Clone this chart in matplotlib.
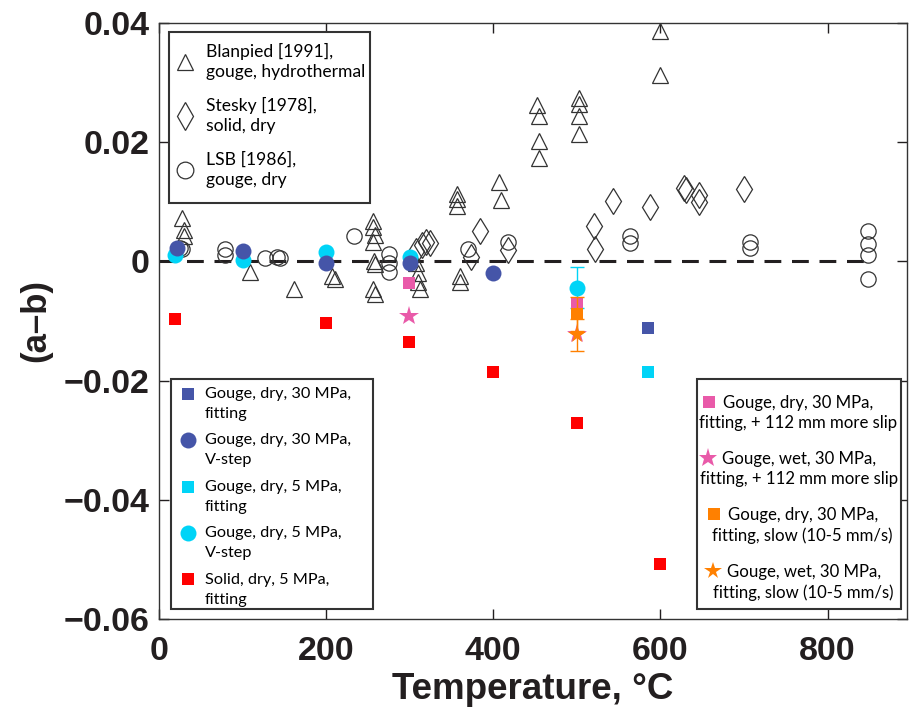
import matplotlib
matplotlib.use('Agg')
from matplotlib import pyplot as plt
from matplotlib.lines import Line2D
from matplotlib.patches import Rectangle
from matplotlib.font_manager import FontProperties
import numpy as np

# Blanpied [1991] gouge, hydrothermal (open triangles)
blanpied_T = [27, 30, 30, 109, 161, 207, 210, 256, 256, 258, 256, 257, 258, 256, 258,
              308, 310, 310, 312, 356, 356, 356, 360, 360, 407, 409,
              452, 455, 455, 455, 503, 503, 503, 503, 600, 600]
blanpied_ab = [0.0073, 0.0053, 0.0042, -0.0018, -0.0047, -0.0025, -0.0030,
               0.0067, 0.0057, 0.0045, 0.0033, 0.0000, -0.0005, -0.0047, -0.0055,
               -0.0002, -0.0019, -0.0035, -0.0047, 0.0113, 0.0104, 0.0093, -0.0025, -0.0035,
               0.0133, 0.0103, 0.0263, 0.0244, 0.0202, 0.0173,
               0.0274, 0.0264, 0.0244, 0.0214, 0.0386, 0.0313]

# Stesky [1978] solid, dry (open diamonds)
stesky_T = [308, 315, 320, 324, 373, 384, 418, 520, 522, 543, 588, 628, 630, 646, 646, 700]
stesky_ab = [0.0018, 0.0027, 0.0032, 0.0031, 0.0007, 0.0051, 0.0019, 0.0060, 0.0020,
             0.0101, 0.0091, 0.0123, 0.0120, 0.0111, 0.0099, 0.0121]

# LSB [1986] gouge, dry (open circles)
lsb_T = [25, 28, 79, 79, 127, 141, 145, 233, 275, 275, 275, 370, 418, 563, 563,
         707, 707, 848, 848, 848, 848]
lsb_ab = [0.0022, 0.0020, 0.0020, 0.0010, 0.0006, 0.0008, 0.0006, 0.0042,
          0.0012, -0.0002, -0.0018, 0.0020, 0.0032, 0.0042, 0.0031,
          0.0032, 0.0022, 0.0051, 0.0030, 0.0010, -0.0029]

# this study
dry30_fit_T = [585]
dry30_fit_ab = [-0.0111]
dry30_vstep_T = [21, 100, 200, 300, 400]
dry30_vstep_ab = [0.0022, 0.0017, -0.0002, -0.0002, -0.0019]
dry5_fit_T = [585]
dry5_fit_ab = [-0.0185]
dry5_vstep_T = [19, 100, 200, 300, 500]
dry5_vstep_ab = [0.0010, 0.0003, 0.0015, 0.0007, -0.0044]
dry5_vstep_err = [0, 0, 0, 0, 0.0035]
solid5_fit_T = [19, 200, 299, 400, 500, 600]
solid5_fit_ab = [-0.0096, -0.0104, -0.0135, -0.0185, -0.0271, -0.0508]
dry30_slip_T = [299, 500]
dry30_slip_ab = [-0.0037, -0.0069]
wet30_slip_T = [299, 500]
wet30_slip_ab = [-0.0092, -0.0121]
dry30_slow_T = [500]
dry30_slow_ab = [-0.0088]
dry30_slow_err = [0.0029]
wet30_slow_T = [500]
wet30_slow_ab = [-0.0124]
wet30_slow_err = [0.0027]

labels1 = ['Blanpied [1991],\ngouge, hydrothermal', 'Stesky [1978],\nsolid, dry',
           'LSB [1986],\ngouge, dry']
labels2 = ['Gouge, dry, 30 MPa,\nfitting', 'Gouge, dry, 30 MPa,\nV-step',
           'Gouge, dry, 5 MPa,\nfitting', 'Gouge, dry, 5 MPa,\nV-step',
           'Solid, dry, 5 MPa,\nfitting']
labels3 = ['Gouge, dry, 30 MPa,\nfitting, + 112 mm more slip',
           'Gouge, wet, 30 MPa,\nfitting, + 112 mm more slip',
           'Gouge, dry, 30 MPa,\nfitting, slow (10-5 mm/s)',
           'Gouge, wet, 30 MPa,\nfitting, slow (10-5 mm/s)']

navy = '#4555a8'
cyan = '#00d4f7'
red = '#ff0000'
pink = '#e95aa9'
orange = '#ff8000'
ink = '#231f20'
edge = '#333333'
bold_font = 'Liberation Sans'
leg_font = 'Lato'

fig = plt.figure(figsize=(9.1, 7.12), dpi=100)
ax = fig.add_axes([159 / 910, 1 - 619 / 712, 748 / 910, 596 / 712])

ax.plot([0, 850], [0, 0], '--', color=ink, lw=2.2, dashes=(5.5, 3.5), zorder=1)

open_kw = dict(linestyle='none', mfc='none', mec=edge, mew=0.9, zorder=3)
ax.plot(blanpied_T, blanpied_ab, marker='^', ms=12, **open_kw)
ax.plot(stesky_T, stesky_ab, marker='d', ms=13, **open_kw)
ax.plot(lsb_T, lsb_ab, marker='o', ms=11, **open_kw)

ax.errorbar(dry5_vstep_T[-1:], dry5_vstep_ab[-1:], yerr=dry5_vstep_err[-1:], fmt='none',
            ecolor=cyan, elinewidth=1, capsize=5, zorder=4)
ax.errorbar(dry30_slow_T, dry30_slow_ab, yerr=dry30_slow_err, fmt='none',
            ecolor=orange, elinewidth=1, capsize=5, zorder=6)
ax.errorbar(wet30_slow_T, wet30_slow_ab, yerr=wet30_slow_err, fmt='none',
            ecolor=orange, elinewidth=1, capsize=5, zorder=6)

fill_kw = dict(linestyle='none', mew=0, zorder=5)
ax.plot(dry5_vstep_T, dry5_vstep_ab, marker='o', ms=11.5, color=cyan, **fill_kw)
ax.plot(dry30_vstep_T, dry30_vstep_ab, marker='o', ms=11.5, color=navy, **fill_kw)
ax.plot(dry30_fit_T, dry30_fit_ab, marker='s', ms=9.2, color=navy, **fill_kw)
ax.plot(dry5_fit_T, dry5_fit_ab, marker='s', ms=9.2, color=cyan, **fill_kw)
ax.plot(solid5_fit_T, solid5_fit_ab, marker='s', ms=9.2, color=red, **fill_kw)
ax.plot(dry30_slip_T, dry30_slip_ab, marker='s', ms=9.2, color=pink, **fill_kw)
ax.plot(dry30_slow_T, dry30_slow_ab, marker='s', ms=9.2, color=orange, **fill_kw)
ax.plot(wet30_slip_T, wet30_slip_ab, marker='*', ms=15, color=pink, **fill_kw)
ax.plot(wet30_slow_T, wet30_slow_ab, marker='*', ms=13, color=orange, **fill_kw)

ax.set_xlim(0, 895)
ax.set_ylim(-0.06, 0.04)
ax.set_xticks([0, 200, 400, 600, 800])
ax.set_yticks([-0.06, -0.04, -0.02, 0, 0.02, 0.04])
ax.set_yticklabels(['\u22120.06', '\u22120.04', '\u22120.02', '0', '0.02', '0.04'])
ax.tick_params(direction='in', top=True, right=True, length=7, width=1, color=ink)
for lab in ax.get_xticklabels() + ax.get_yticklabels():
    lab.set_fontfamily(bold_font)
    lab.set_fontweight('bold')
    lab.set_fontsize(24.5)
    lab.set_color(ink)
ax.tick_params(axis='x', pad=12)
ax.tick_params(axis='y', pad=7)
for s in ax.spines.values():
    s.set_linewidth(1.0)
    s.set_color(edge)

ax.set_xlabel('Temperature, \u00b0C', family=bold_font, weight='bold', size=26.5, color=ink, labelpad=4)
ax.set_ylabel('(a\u2013b)', family=bold_font, weight='bold', size=25, color=ink, labelpad=8)


def h(marker, color, ms, filled=True):
    if filled:
        return Line2D([], [], ls='none', marker=marker, ms=ms, color=color, mew=0)
    return Line2D([], [], ls='none', marker=marker, ms=ms, mfc='none', mec=edge, mew=0.9)


def frame(x0, y0, x1, y1):
    # legend box outline, given in figure pixels
    ax.add_patch(Rectangle(((x0 - 159) / 748, (619 - y1) / 596), (x1 - x0) / 748, (y1 - y0) / 596,
                           transform=ax.transAxes, fc='white', ec=edge, lw=1.5, zorder=10,
                           clip_on=False))


def rows_of(leg):
    return [row for col in leg._legend_handle_box.get_children() for row in col.get_children()]


leg_kw = dict(frameon=False, borderpad=0, borderaxespad=0)

frame(169, 32, 370, 203)
leg1 = ax.legend([h('^', None, 12, False), h('d', None, 14, False), h('o', None, 12, False)],
                 labels1, loc='upper left', bbox_to_anchor=((174 - 159) / 748, (619 - 43) / 596),
                 prop={'family': leg_font, 'size': 12.6}, handlelength=1.2, handletextpad=0.6,
                 labelspacing=0.95, **leg_kw)
for t in leg1.get_texts():
    t.set_linespacing(1.33)
leg1.set_zorder(11)
ax.add_artist(leg1)

frame(171, 379, 373, 609)
leg2 = ax.legend([h('s', navy, 9.2), h('o', navy, 11.5), h('s', cyan, 9.2), h('o', cyan, 11.5),
                  h('s', red, 9.2)],
                 labels2, loc='upper left', bbox_to_anchor=((177.5 - 159) / 748, (619 - 387) / 596),
                 prop={'family': leg_font, 'size': 11.7}, handlelength=1.3, handleheight=1.15,
                 handletextpad=0.4, labelspacing=0.76, **leg_kw)
for t in leg2.get_texts():
    t.set_linespacing(1.55)
for row in rows_of(leg2):
    row.align = 'top'
leg2.set_zorder(11)
ax.add_artist(leg2)

frame(697, 379, 901, 609)
size3 = 12.1
leg3 = ax.legend([h('s', pink, 9.2), h('*', pink, 14), h('s', orange, 9.2), h('*', orange, 13)],
                 labels3, loc='upper center', bbox_to_anchor=((799 - 159) / 748, (619 - 395) / 596),
                 prop={'family': leg_font, 'size': size3}, handlelength=1.0, handleheight=1.15,
                 labelspacing=1.19, **leg_kw)
for t in leg3.get_texts():
    t.set_multialignment('center')
    t.set_linespacing(1.32)
for col in leg3._legend_handle_box.get_children():
    col.align = 'center'

# keep each key just left of the first (centred) line of its label
renderer = fig.canvas.get_renderer()
pt = renderer.points_to_pixels(1.0)
prop3 = FontProperties(family=leg_font, size=size3)
for row, lab in zip(rows_of(leg3), labels3):
    row.align = 'top'
    widths = [renderer.get_text_width_height_descent(s, prop3, ismath=False)[0]
              for s in lab.split('\n')]
    sep_px = -0.5 * size3 * pt - (max(widths) - widths[0]) / 2 + 14
    row.sep = sep_px / pt
leg3.set_zorder(11)

fig.savefig('out.png', dpi=100)
